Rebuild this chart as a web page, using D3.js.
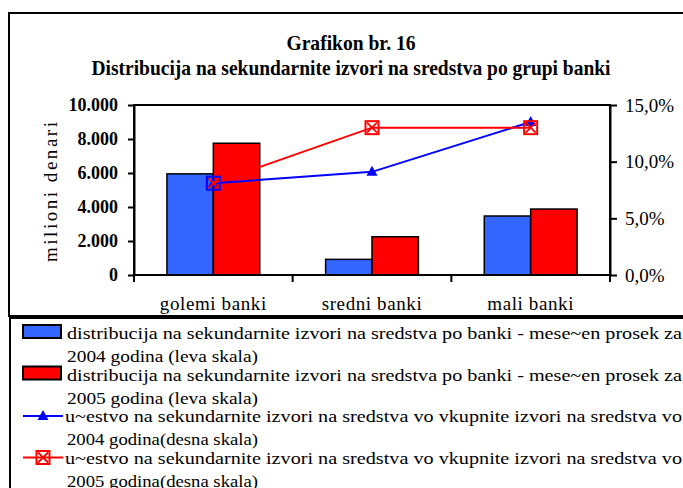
<!DOCTYPE html>
<html>
<head>
<meta charset="utf-8">
<script src="https://cdn.jsdelivr.net/npm/d3@7"></script>
<style>
  body { margin: 0; background: #fff; }
  svg { display: block; font-family: "Liberation Serif", "Times New Roman", serif; }
</style>
</head>
<body>
<div id="chart"></div>
<script>
/**
 * DATA
 * */
const categories = ["golemi banki", "sredni banki", "mali banki"];
const avg2004 = [5950, 920, 3470];    // mesecen prosek 2004, milioni denari
const avg2005 = [7750, 2250, 3880];   // mesecen prosek 2005
const share2004 = [0.081, 0.091, 0.135];  // ucestvo 2004 (desna skala)
const share2005 = [0.081, 0.130, 0.130];  // ucestvo 2005 (desna skala)
const leftTicks = [0, 2000, 4000, 6000, 8000, 10000];
const rightTicks = [0, 0.05, 0.10, 0.15];

const titleLines = ["Grafikon br. 16", "Distribucija na sekundarnite izvori na sredstva po grupi banki"];
const yTitle = "milioni denari";
const legendItems = [
  { type: "bar", color: "#3366FF", l1: "distribucija na sekundarnite izvori na sredstva po banki - mese~en prosek za", l2: "2004 godina (leva skala)" },
  { type: "bar", color: "#FF0000", l1: "distribucija na sekundarnite izvori na sredstva po banki - mese~en prosek za", l2: "2005 godina (leva skala)" },
  { type: "tri", color: "#0000FF", l1: "u~estvo na sekundarnite izvori na sredstva vo vkupnite izvori na sredstva vo", l2: "2004 godina(desna skala)" },
  { type: "box", color: "#FF0000", l1: "u~estvo na sekundarnite izvori na sredstva vo vkupnite izvori na sredstva vo", l2: "2005 godina(desna skala)" }
];

/**
 * CONSTANTS
 * */
const width = 683, height = 488;
const plot = { left: 134, right: 610, top: 105, bottom: 275 };

const svg = d3.select("#chart").append("svg")
  .attr("width", width)
  .attr("height", height);

// frames
svg.append("rect")
  .attr("x", 9).attr("y", 13).attr("width", 720).attr("height", 303)
  .attr("fill", "none").attr("stroke", "#000").attr("stroke-width", 2);
svg.append("rect")
  .attr("x", 10).attr("y", 318).attr("width", 720).attr("height", 220)
  .attr("fill", "none").attr("stroke", "#000").attr("stroke-width", 2);

// titles
svg.append("text")
  .attr("x", 351).attr("y", 50)
  .attr("text-anchor", "middle")
  .attr("font-size", 21).attr("font-weight", "bold")
  .attr("textLength", 129).attr("lengthAdjust", "spacingAndGlyphs")
  .text(titleLines[0]);
svg.append("text")
  .attr("x", 351).attr("y", 75)
  .attr("text-anchor", "middle")
  .attr("font-size", 21).attr("font-weight", "bold")
  .attr("textLength", 519).attr("lengthAdjust", "spacingAndGlyphs")
  .text(titleLines[1]);

/**
 * SCALES
 * */
const x0 = d3.scaleBand().domain(categories).range([plot.left, plot.right]);
const x1 = d3.scaleBand().domain(["2004", "2005"]).range([0, x0.bandwidth()]).paddingOuter(0.71);
const yL = d3.scaleLinear().domain([0, 10000]).range([plot.bottom, plot.top]);
const yR = d3.scaleLinear().domain([0, 0.15]).range([plot.bottom, plot.top]);

const loc = d3.formatLocale({ decimal: ",", thousands: ".", grouping: [3], currency: ["", ""] });
const fmtL = loc.format(",.0f");
const fmtR = loc.format(".1%");

/**
 * BARS
 * */
const barData = categories.map((c, i) => [
  { c, s: "2004", v: avg2004[i], color: "#3366FF" },
  { c, s: "2005", v: avg2005[i], color: "#FF0000" }
]).flat();

svg.append("g").selectAll("rect")
  .data(barData)
  .join("rect")
  .attr("x", d => x0(d.c) + x1(d.s))
  .attr("y", d => yL(d.v))
  .attr("width", x1.bandwidth())
  .attr("height", d => yL(0) - yL(d.v))
  .attr("fill", d => d.color)
  .attr("stroke", "#000")
  .attr("stroke-width", 1.5);

// plot frame
svg.append("rect")
  .attr("x", plot.left).attr("y", plot.top)
  .attr("width", plot.right - plot.left).attr("height", plot.bottom - plot.top)
  .attr("fill", "none").attr("stroke", "#000").attr("stroke-width", 2);

/**
 * AXES
 * */
const axL = svg.append("g")
  .attr("transform", `translate(${plot.left},0)`)
  .call(d3.axisLeft(yL).tickValues(leftTicks).tickFormat(fmtL).tickSize(6).tickSizeOuter(0).tickPadding(10));
axL.select(".domain").attr("stroke-width", 2);
axL.selectAll(".tick line").attr("stroke-width", 2);
axL.selectAll("text")
  .attr("font-family", "Liberation Serif, serif")
  .attr("font-size", 18).attr("font-weight", "bold").attr("fill", "#000");

const axR = svg.append("g")
  .attr("transform", `translate(${plot.right},0)`)
  .call(d3.axisRight(yR).tickValues(rightTicks).tickFormat(fmtR).tickSize(7).tickSizeOuter(0).tickPadding(8));
axR.select(".domain").attr("stroke-width", 2);
axR.selectAll(".tick line").attr("stroke-width", 2);
axR.selectAll("text")
  .attr("font-family", "Liberation Serif, serif")
  .attr("font-size", 19).attr("fill", "#000");

// category axis: ticks on band boundaries
const bounds = categories.map(c => x0(c)).concat([plot.right]);
svg.append("g").selectAll("line")
  .data(bounds)
  .join("line")
  .attr("x1", d => d).attr("x2", d => d)
  .attr("y1", plot.bottom).attr("y2", plot.bottom + 7)
  .attr("stroke", "#000").attr("stroke-width", 2);

svg.append("g").selectAll("text")
  .data(categories)
  .join("text")
  .attr("x", d => x0(d) + x0.bandwidth() / 2)
  .attr("y", 310)
  .attr("text-anchor", "middle")
  .attr("font-size", 19)
  .attr("letter-spacing", 0.6)
  .text(d => d);

// y title
svg.append("text")
  .attr("transform", "translate(57,192) rotate(-90)")
  .attr("text-anchor", "middle")
  .attr("font-size", 19)
  .attr("textLength", 140).attr("lengthAdjust", "spacing")
  .text(yTitle);

/**
 * LINES
 * */
const cx = c => x0(c) + x0.bandwidth() / 2;
const line = d3.line().x(d => cx(d.c)).y(d => yR(d.v));
const pts2004 = categories.map((c, i) => ({ c, v: share2004[i] }));
const pts2005 = categories.map((c, i) => ({ c, v: share2005[i] }));
const boxStroke = ["#0000FF", "#FF0000", "#FF0000"];

function triangle(g, x, y, color) {
  g.append("path")
    .attr("d", `M${x},${y - 6}L${x + 5.5},${y + 4}L${x - 5.5},${y + 4}Z`)
    .attr("fill", color);
}
function box(g, x, y, color, xColor) {
  g.append("rect")
    .attr("x", x - 6.5).attr("y", y - 6.5).attr("width", 13).attr("height", 13)
    .attr("fill", "none").attr("stroke", color).attr("stroke-width", 2);
  g.append("path")
    .attr("d", `M${x - 5},${y - 5}L${x + 5},${y + 5}M${x + 5},${y - 5}L${x - 5},${y + 5}`)
    .attr("stroke", xColor).attr("stroke-width", 1.8);
}

const gLines = svg.append("g");
gLines.append("path").datum(pts2004).attr("d", line)
  .attr("fill", "none").attr("stroke", "#0000FF").attr("stroke-width", 2);
pts2004.forEach(d => triangle(gLines, cx(d.c), yR(d.v), "#0000FF"));
gLines.append("path").datum(pts2005).attr("d", line)
  .attr("fill", "none").attr("stroke", "#FF0000").attr("stroke-width", 2);
pts2005.forEach((d, i) => box(gLines, cx(d.c), yR(d.v), boxStroke[i], "#FF0000"));

/**
 * LEGEND
 * */
const lg = svg.append("g");
legendItems.forEach((it, i) => {
  const base = 339 + i * 41.5;
  if (it.type === "bar") {
    lg.append("rect")
      .attr("x", 23).attr("y", base - 14).attr("width", 38).attr("height", 13)
      .attr("fill", it.color).attr("stroke", "#000").attr("stroke-width", 2);
  } else {
    const ly = base - 6;
    lg.append("line")
      .attr("x1", 23).attr("x2", 63).attr("y1", ly).attr("y2", ly)
      .attr("stroke", it.color).attr("stroke-width", 2);
    if (it.type === "tri") triangle(lg, 43, ly, it.color);
    else box(lg, 43, ly, it.color, it.color);
  }
  lg.append("text")
    .attr("x", it.type === "bar" ? 67 : 65).attr("y", base)
    .attr("font-size", 17.5)
    .attr("textLength", it.type === "bar" ? 615 : 617).attr("lengthAdjust", "spacingAndGlyphs")
    .text(it.l1);
  lg.append("text")
    .attr("x", 67).attr("y", base + 23)
    .attr("font-size", 17.5)
    .attr("textLength", 191).attr("lengthAdjust", "spacingAndGlyphs")
    .text(it.l2);
});
</script>
</body>
</html>
